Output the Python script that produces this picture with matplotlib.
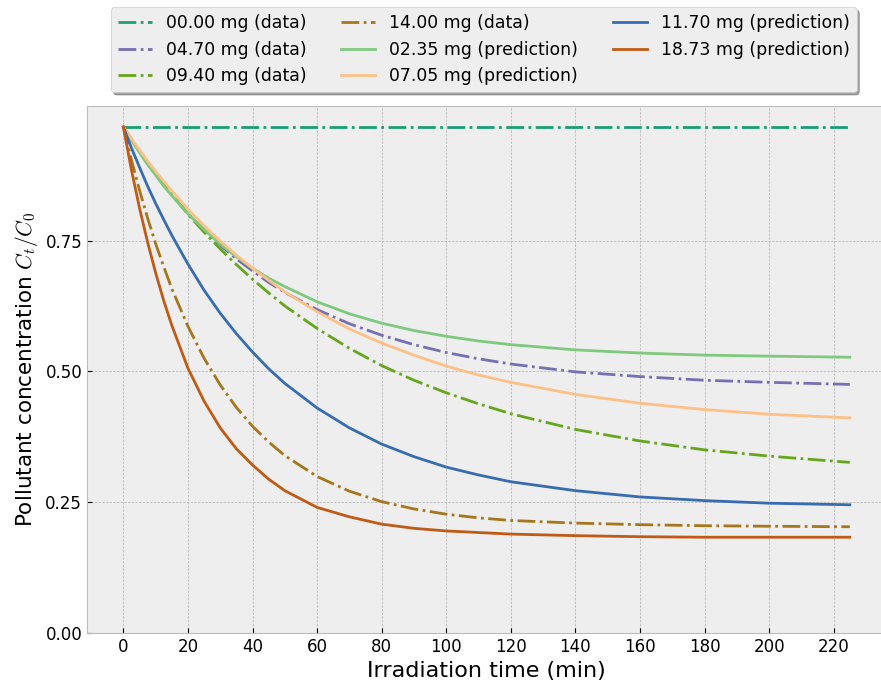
import matplotlib
matplotlib.use("Agg")
import matplotlib.pyplot as plt
from matplotlib.ticker import MultipleLocator, FormatStrFormatter

plt.style.use("bmh")

# time axis (min)
t = [0, 2.5, 5, 7.5, 10, 12.5, 15, 20, 25, 30, 35, 40, 45, 50, 60, 70, 80, 90,
     100, 110, 120, 140, 160, 180, 200, 225]

# measured curves
c_00_00 = [0.967] * len(t)
c_04_70 = [0.967, 0.943, 0.919, 0.897, 0.876, 0.856, 0.837, 0.802, 0.770, 0.741,
           0.715, 0.692, 0.670, 0.651, 0.618, 0.591, 0.569, 0.551, 0.536, 0.524,
           0.514, 0.499, 0.490, 0.483, 0.479, 0.475]
c_09_40 = [0.967, 0.943, 0.921, 0.899, 0.878, 0.858, 0.838, 0.800, 0.766, 0.734,
           0.704, 0.676, 0.650, 0.625, 0.582, 0.544, 0.511, 0.483, 0.459, 0.438,
           0.419, 0.389, 0.367, 0.350, 0.338, 0.326]
c_14_00 = [0.967, 0.904, 0.846, 0.793, 0.744, 0.700, 0.658, 0.586, 0.525, 0.474,
           0.431, 0.395, 0.365, 0.339, 0.299, 0.271, 0.251, 0.237, 0.227, 0.220,
           0.215, 0.210, 0.207, 0.205, 0.204, 0.203]

# predicted curves
p_02_35 = [0.967, 0.942, 0.918, 0.895, 0.875, 0.854, 0.836, 0.801, 0.771, 0.743,
           0.719, 0.697, 0.678, 0.662, 0.633, 0.610, 0.592, 0.578, 0.567, 0.558,
           0.551, 0.541, 0.535, 0.531, 0.529, 0.527]
p_07_05 = [0.967, 0.945, 0.923, 0.902, 0.882, 0.863, 0.845, 0.810, 0.778, 0.749,
           0.722, 0.697, 0.674, 0.652, 0.614, 0.581, 0.554, 0.531, 0.510, 0.493,
           0.479, 0.456, 0.439, 0.427, 0.418, 0.411]
p_11_70 = [0.967, 0.927, 0.890, 0.854, 0.821, 0.790, 0.760, 0.705, 0.655, 0.611,
           0.572, 0.537, 0.505, 0.477, 0.430, 0.392, 0.361, 0.337, 0.317, 0.302,
           0.289, 0.272, 0.260, 0.253, 0.248, 0.245]
p_18_73 = [0.967, 0.885, 0.812, 0.747, 0.688, 0.635, 0.588, 0.506, 0.443, 0.392,
           0.352, 0.321, 0.294, 0.272, 0.240, 0.222, 0.208, 0.200, 0.195, 0.192,
           0.189, 0.186, 0.184, 0.183, 0.183, 0.183]

data = [("00.00 mg (data)", c_00_00, "#1b9e77"),
        ("04.70 mg (data)", c_04_70, "#7570b3"),
        ("09.40 mg (data)", c_09_40, "#66a61e"),
        ("14.00 mg (data)", c_14_00, "#a6761d")]
pred = [("02.35 mg (prediction)", p_02_35, "#7fc97f"),
        ("07.05 mg (prediction)", p_07_05, "#fdc086"),
        ("11.70 mg (prediction)", p_11_70, "#386cb0"),
        ("18.73 mg (prediction)", p_18_73, "#bf5b17")]

fig = plt.figure(figsize=(8.81, 6.89), dpi=100)
ax = fig.add_axes([0.0988, 0.0813, 0.907, 0.7648])

for lab, y, c in data:
    ax.plot(t, y, ls="-.", color=c, lw=2, label=lab)
for lab, y, c in pred:
    ax.plot(t, y, ls="-", color=c, lw=2, label=lab)

ax.set_xlim(-11.25, 236.25)
ax.set_ylim(0, 1.007)
ax.xaxis.set_major_locator(MultipleLocator(20))
ax.set_yticks([0, 0.25, 0.5, 0.75])
ax.yaxis.set_major_formatter(FormatStrFormatter("%.2f"))
ax.tick_params(labelsize=12)

ax.set_xlabel("Irradiation time (min)", fontsize=16)
ax.set_ylabel("Pollutant concentration $C_t/C_0$", fontsize=15.5)

ax.legend(ncol=3, loc="upper center", bbox_to_anchor=(0.549, 1.002),
          bbox_transform=fig.transFigure, fontsize=12.4, shadow=True,
          frameon=True)

fig.savefig("out.png", dpi=100)
